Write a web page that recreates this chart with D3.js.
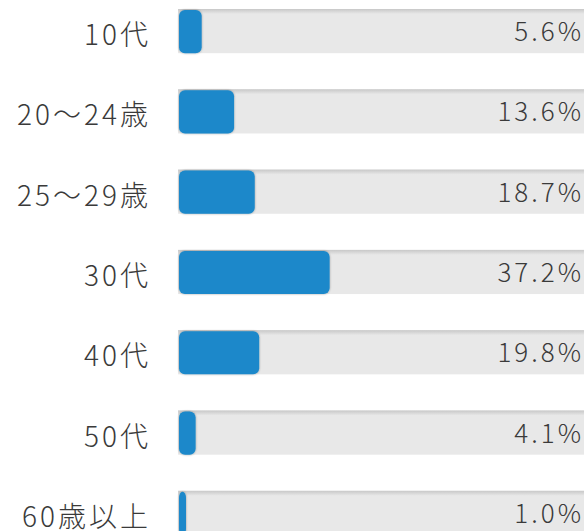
<!DOCTYPE html>
<meta charset="utf-8" />
<html>
<head>
<title>age bars</title>
<script src="https://cdn.jsdelivr.net/npm/d3@7"></script>
<style>
body { margin: 0; background: #fff; }
text { font-family: "Noto Sans CJK JP", "Noto Sans", sans-serif; font-weight: 200; fill: #3a3a3a; }
</style>
</head>
<body>
<div id="viz"></div>
<script>

// data
var ages = ["10代", "20〜24歳", "25〜29歳", "30代", "40代", "50代", "60歳以上"];
var shares = [5.6, 13.6, 18.7, 37.2, 19.8, 4.1, 1.0];

var width = 584,
    height = 531;

var svg = d3.select("#viz").append("svg")
    .attr("width", width)
    .attr("height", height);

var defs = svg.append("defs");
var sh = defs.append("filter").attr("id", "sh")
    .attr("x", "-20%").attr("y", "-20%").attr("width", "140%").attr("height", "140%");
sh.append("feDropShadow")
  .attr("dx", 0).attr("dy", 0).attr("stdDeviation", 1)
  .attr("flood-color", "#000").attr("flood-opacity", 0.35);

var topShade = defs.append("linearGradient").attr("id", "topShade")
    .attr("x1", 0).attr("y1", 0).attr("x2", 0).attr("y2", 1);
topShade.append("stop").attr("offset", "0%").attr("stop-color", "#c8c8c8");
topShade.append("stop").attr("offset", "100%").attr("stop-color", "#e8e8e8");

var trackX = 178,
    step = 80.3,
    pad = 0.45;
var x = d3.scaleLinear().domain([0, 100]).range([0, 405]);
var y = d3.scaleBand().domain(ages)
    .range([9, 9 + step * (ages.length - pad)])
    .paddingInner(pad).paddingOuter(0).align(0);

var rows = svg.selectAll("g.row")
  .data(ages.map(function(a, i) { return { age: a, v: shares[i] }; }))
  .enter().append("g")
    .attr("class", "row")
    .attr("transform", function(d) { return "translate(0," + y(d.age) + ")"; });

var bh = y.bandwidth();

// grey track
rows.append("rect")
    .attr("x", trackX)
    .attr("y", 0)
    .attr("width", width - trackX + 10)
    .attr("height", bh)
    .style("fill", "#e8e8e8");
rows.append("rect")
    .attr("x", trackX)
    .attr("y", 0)
    .attr("width", width - trackX + 10)
    .attr("height", 5)
    .style("fill", "url(#topShade)");

// blue bar
rows.append("rect")
    .attr("x", trackX + 1)
    .attr("y", 1)
    .attr("width", function(d) { return Math.max(x(d.v), 7); })
    .attr("height", bh - 1)
    .attr("rx", 6)
    .style("fill", "#1a88ca")
    .attr("filter", "url(#sh)");

// labels
rows.append("text")
    .attr("x", 151)
    .attr("y", bh / 2 + 14)
    .attr("text-anchor", "end")
    .style("font-size", "28px")
    .style("letter-spacing", "3px")
    .text(function(d) { return d.age; });

rows.append("text")
    .attr("x", 584)
    .attr("y", bh / 2 + 10)
    .attr("text-anchor", "end")
    .style("font-size", "26px")
    .style("letter-spacing", "3px")
    .text(function(d) { return d.v.toFixed(1) + "%"; });

</script>
</body>
</html>
